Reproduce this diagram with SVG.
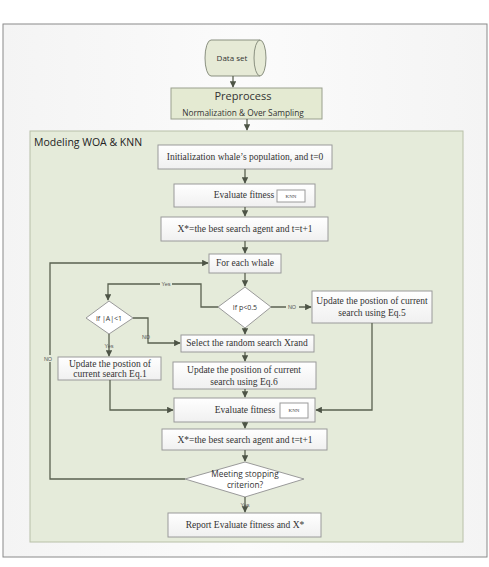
<svg xmlns="http://www.w3.org/2000/svg" width="489" height="567" viewBox="0 0 489 567">
<defs>
<linearGradient id="gBox" x1="0" y1="0" x2="0" y2="1"><stop offset="0" stop-color="#ffffff"/><stop offset="1" stop-color="#f0f0f0"/></linearGradient>
<linearGradient id="gOuter" x1="0" y1="0" x2="1" y2="0"><stop offset="0" stop-color="#f4f4f4"/><stop offset="0.5" stop-color="#fbfbfb"/><stop offset="1" stop-color="#f4f4f4"/></linearGradient>
<marker id="arr" viewBox="0 0 10 10" refX="9" refY="5" markerWidth="5" markerHeight="5" orient="auto"><path d="M0,0 L10,5 L0,10 z" fill="#4d5446"/></marker>
</defs>
<style>
.box{fill:url(#gBox);stroke:#9a9a9a;stroke-width:1}
.dia{fill:#ffffff;stroke:#9a9a9a;stroke-width:1}
.con{fill:none;stroke:#5a6150;stroke-width:1.3}
.st{font-family:"Liberation Serif","Times New Roman",serif;font-size:9.5px;fill:#333;text-anchor:middle}
.ss{font-family:"Open Sans","Liberation Sans",sans-serif;fill:#333;text-anchor:middle}
.lbl{font-family:"Liberation Sans",sans-serif;font-size:5.5px;fill:#555;text-anchor:middle}
.knn{font-family:"Liberation Serif","Times New Roman",serif;font-size:5px;fill:#444;text-anchor:middle}
.dt{font-family:"Open Sans","Liberation Sans",sans-serif;font-size:7px;fill:#333;text-anchor:middle}
</style>
<rect x="3" y="24" width="484" height="533" fill="url(#gOuter)" stroke="#8a8a8a" stroke-width="1"/>
<g id="dataset">
<path d="M211,40 L260,40 A6,18 0 0 1 260,76 L211,76 A6,18 0 0 1 211,40 Z" fill="#e6ead6" stroke="#8a9080"/>
<path d="M260,40 A6,18 0 0 0 260,76" fill="none" stroke="#8a9080"/>
<text class="ss" x="232" y="61" font-size="8">Data set</text>
</g>
<g id="preprocess">
<rect x="171" y="88" width="151" height="31" fill="#e4ead2" stroke="#9aa08e"/>
<text class="ss" x="243" y="100" font-size="11">Preprocess</text>
<text class="ss" x="243" y="116" font-size="8.3">Normalization  &amp; Over Sampling</text>
</g>
<g id="modeling">
<rect x="30" y="131" width="433" height="411" fill="#e5ebda" stroke="#b8c0a8"/>
<text x="34" y="146" font-family="Open Sans,Liberation Sans,sans-serif" font-size="10.5" fill="#222">Modeling WOA &amp; KNN</text>
</g>
<g id="init">
<rect class="box" x="158" y="145" width="174" height="24"/>
<text class="st" x="245" y="160">Initialization whale’s population, and t=0</text>
</g>
<g id="eval1">
<rect class="box" x="174" y="184" width="141" height="23"/>
<text class="st" x="244" y="198">Evaluate fitness</text>
<rect x="277" y="190" width="28" height="12" fill="#fff" stroke="#9a9a9a"/>
<text class="knn" x="291" y="198">KNN</text>
</g>
<g id="best1">
<rect class="box" x="161" y="217" width="167" height="24"/>
<text class="st" x="245" y="232">X*=the best search agent and t=t+1</text>
</g>
<g id="foreach">
<rect class="box" x="209" y="254" width="72" height="19"/>
<text class="st" x="245" y="266">For each whale</text>
</g>
<g id="ifp">
<polygon class="dia" points="245,287 271,307 245,328 218,307"/>
<text class="dt" x="245" y="310">If p&lt;0.5</text>
</g>
<g id="eq5">
<rect class="box" x="312" y="291" width="120" height="32"/>
<text class="st" x="372" y="304">Update the postion of current</text>
<text class="st" x="372" y="316">search using Eq.5</text>
</g>
<g id="ifa">
<polygon class="dia" points="109,301 133,318 109,334 86,318"/>
<text class="dt" x="109" y="320.5">If |A|&lt;1</text>
</g>
<g id="select">
<rect class="box" x="181" y="335" width="133" height="17"/>
<text class="st" x="247" y="346">Select the random search Xrand</text>
</g>
<g id="eq1">
<rect class="box" x="58" y="357" width="103" height="23"/>
<text class="st" x="110" y="367">Update the postion of</text>
<text class="st" x="110" y="377">current search Eq.1</text>
</g>
<g id="eq6">
<rect class="box" x="173" y="362" width="143" height="27"/>
<text class="st" x="244" y="373">Update the position of current</text>
<text class="st" x="244" y="385">search using Eq.6</text>
</g>
<g id="eval2">
<rect class="box" x="174" y="398" width="141" height="24"/>
<text class="st" x="245" y="413">Evaluate fitness</text>
<rect x="280" y="403" width="28" height="15" fill="#fff" stroke="#9a9a9a"/>
<text class="knn" x="294" y="412">KNN</text>
</g>
<g id="best2">
<rect class="box" x="162" y="429" width="165" height="21"/>
<text class="st" x="245" y="443">X*=the best search agent and t=t+1</text>
</g>
<g id="stop">
<polygon class="dia" points="245,462 304,479 245,497 185,479"/>
<text class="ss" x="245" y="477" font-size="8.3">Meeting stopping</text>
<text class="ss" x="245" y="487.5" font-size="8.3">criterion?</text>
</g>
<g id="report">
<rect class="box" x="168" y="513" width="153" height="24"/>
<text class="st" x="245" y="528">Report Evaluate fitness and X*</text>
</g>
<g id="connectors">
<path class="con" d="M233,76 V87" marker-end="url(#arr)"/>
<path class="con" d="M247,119 V130" marker-end="url(#arr)"/>
<path class="con" d="M245,169 V183" marker-end="url(#arr)"/>
<path class="con" d="M245,207 V216" marker-end="url(#arr)"/>
<path class="con" d="M245,241 V253" marker-end="url(#arr)"/>
<path class="con" d="M245,273 V286" marker-end="url(#arr)"/>
<path class="con" d="M218,307 H201 V284 H108 V300" marker-end="url(#arr)"/>
<path class="con" d="M271,307 H311" marker-end="url(#arr)"/>
<path class="con" d="M245,328 V334" marker-end="url(#arr)"/>
<path class="con" d="M133,318 H148 V343 H180" marker-end="url(#arr)"/>
<path class="con" d="M109,334 V356" marker-end="url(#arr)"/>
<path class="con" d="M245,352 V361" marker-end="url(#arr)"/>
<path class="con" d="M245,389 V397" marker-end="url(#arr)"/>
<path class="con" d="M110,380 V410 H173" marker-end="url(#arr)"/>
<path class="con" d="M372,323 V410 H316" marker-end="url(#arr)"/>
<path class="con" d="M245,422 V428" marker-end="url(#arr)"/>
<path class="con" d="M245,450 V461" marker-end="url(#arr)"/>
<path class="con" d="M185,479 H50 V263 H208" marker-end="url(#arr)"/>
<path class="con" d="M245,497 V512" marker-end="url(#arr)"/>
<rect x="160" y="281" width="12" height="6" fill="#e5ebda"/>
<text class="lbl" x="166" y="286">Yes</text>
<rect x="286" y="304" width="13" height="6" fill="#e5ebda"/>
<text class="lbl" x="292" y="309">NO</text>
<text class="lbl" x="146" y="339">NO</text>
<text class="lbl" x="109" y="348">Yes</text>
<rect x="42" y="355" width="14" height="7" fill="#e5ebda"/>
<text class="lbl" x="48" y="361">NO</text>
<text class="lbl" x="245" y="507">Yes</text>
</g>
</svg>
